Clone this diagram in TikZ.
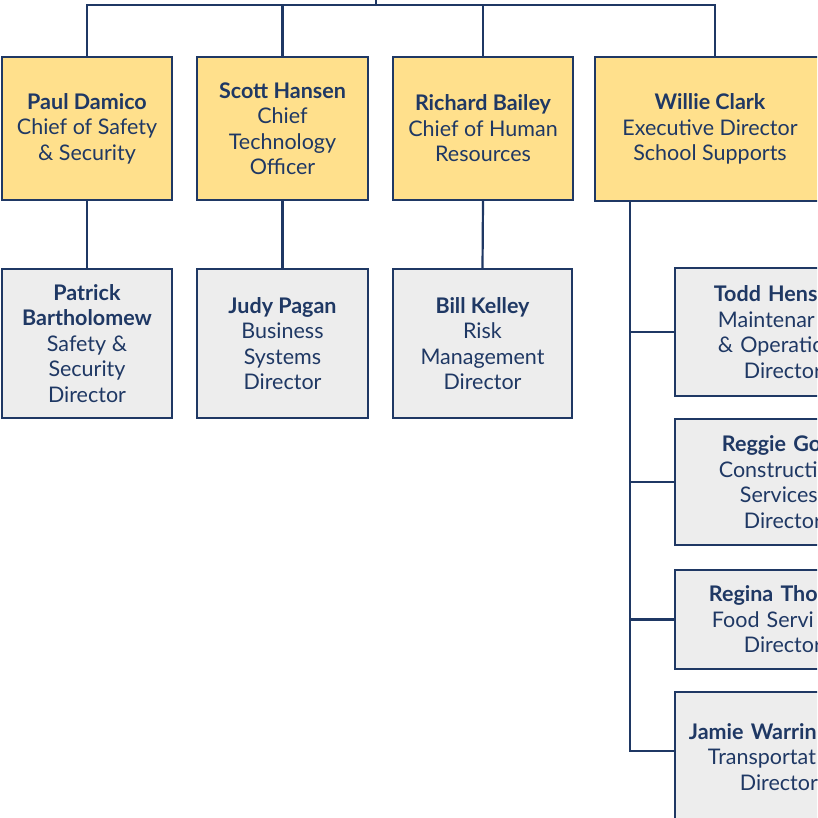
\documentclass[tikz,border=0pt]{standalone}
\usepackage{fontspec}
\setmainfont{Lato}
\usetikzlibrary{calc}
\definecolor{navy}{HTML}{1F3864}
\definecolor{gold}{HTML}{FFE08C}
\definecolor{boxgray}{HTML}{EDEDED}
\tikzset{chief/.style={
		draw=navy, line width=1.8pt, fill=gold, text=navy,
		align=center, inner sep=0pt,
		font=\fontsize{21.5}{25.5}\selectfont}}
\tikzset{director/.style={chief, fill=boxgray}}
\tikzset{cutbox/.style={director, anchor=west, minimum width=210,
		text width=210pt, align=left}}
\tikzset{link/.style={draw=navy, line width=2.2pt}}

\begin{document}
\begin{tikzpicture}[x=1pt,y=-1pt]
  \useasboundingbox (0,0) rectangle (817,818);
  \clip (0,0) rectangle (817,818);

  % chiefs
  \node[chief, minimum width=170, minimum height=143] (paul) at (87,128.5)
    {\textbf{Paul Damico}\\Chief of Safety\\\& Security};
  \node[chief, minimum width=171, minimum height=143] (scott) at (282.5,128.5)
    {\textbf{Scott Hansen}\\Chief\\Technology\\Officer};
  \node[chief, minimum width=180, minimum height=143] (richard) at (483,128.5)
    {\textbf{Richard Bailey}\\Chief of Human\\Resources};
  \node[chief, minimum width=230, minimum height=144] (willie) at (710,129)
    {\textbf{Willie Clark}\\Executive Director\\School Supports};

  % directors
  \node[director, minimum width=170, minimum height=149] (patrick) at (87,343.5)
    {\textbf{Patrick}\\\textbf{Bartholomew}\\Safety \&\\Security\\Director};
  \node[director, minimum width=171, minimum height=149] (judy) at (282.5,343.5)
    {\textbf{Judy Pagan}\\Business\\Systems\\Director};
  \node[director, minimum width=179, minimum height=149] (bill) at (482.5,343.5)
    {\textbf{Bill Kelley}\\Risk\\Management\\Director};

  % school supports (cut at the right edge)
  \node[cutbox, minimum height=128] (todd) at (674,332)
    {\hspace*{39pt}\textbf{Todd Hens}\\\hspace*{43pt}Maintenar\\\hspace*{43pt}\& Operatio\\\hspace*{69pt}Director};
  \node[cutbox, minimum height=126] (reggie) at (674,482)
    {\hspace*{47pt}\textbf{Reggie Go}\\\hspace*{44pt}Constructi\\\hspace*{65pt}Services\\\hspace*{69pt}Director};
  \node[cutbox, minimum height=99] (regina) at (674,619.5)
    {\hspace*{34pt}\textbf{Regina Tho}\\\hspace*{37pt}Food Servi\\\hspace*{69pt}Director};
  \node[cutbox, minimum height=130] (jamie) at (674,757)
    {\hspace*{14pt}\textbf{Jamie Warrin}\\\hspace*{33pt}Transportat\\\hspace*{65pt}Director};

  % top bar
  \coordinate (hub) at (376,5);
  \coordinate (up) at (376,-3);
  \draw[link] (up) -- (hub);
  \draw[link] (paul.north) |- (hub) -| ([xshift=5pt]willie.north);
  \draw[link] (scott.north) -- (scott.north |- hub);
  \draw[link] (richard.north) -- (richard.north |- hub);

  \draw[link] (paul.south) -- (patrick.north);
  \draw[link] (scott.south) -- (judy.north);
  \draw[link] (richard.south) -- (bill.north);

  % spine under Willie Clark
  \coordinate (spine) at ([xshift=36pt]willie.south west);
  \draw[link] (spine) |- ([yshift=6pt]jamie.west);
  \foreach \n in {todd,reggie,regina}
    \draw[link] (spine |- \n.west) -- (\n.west);
\end{tikzpicture}
\end{document}
